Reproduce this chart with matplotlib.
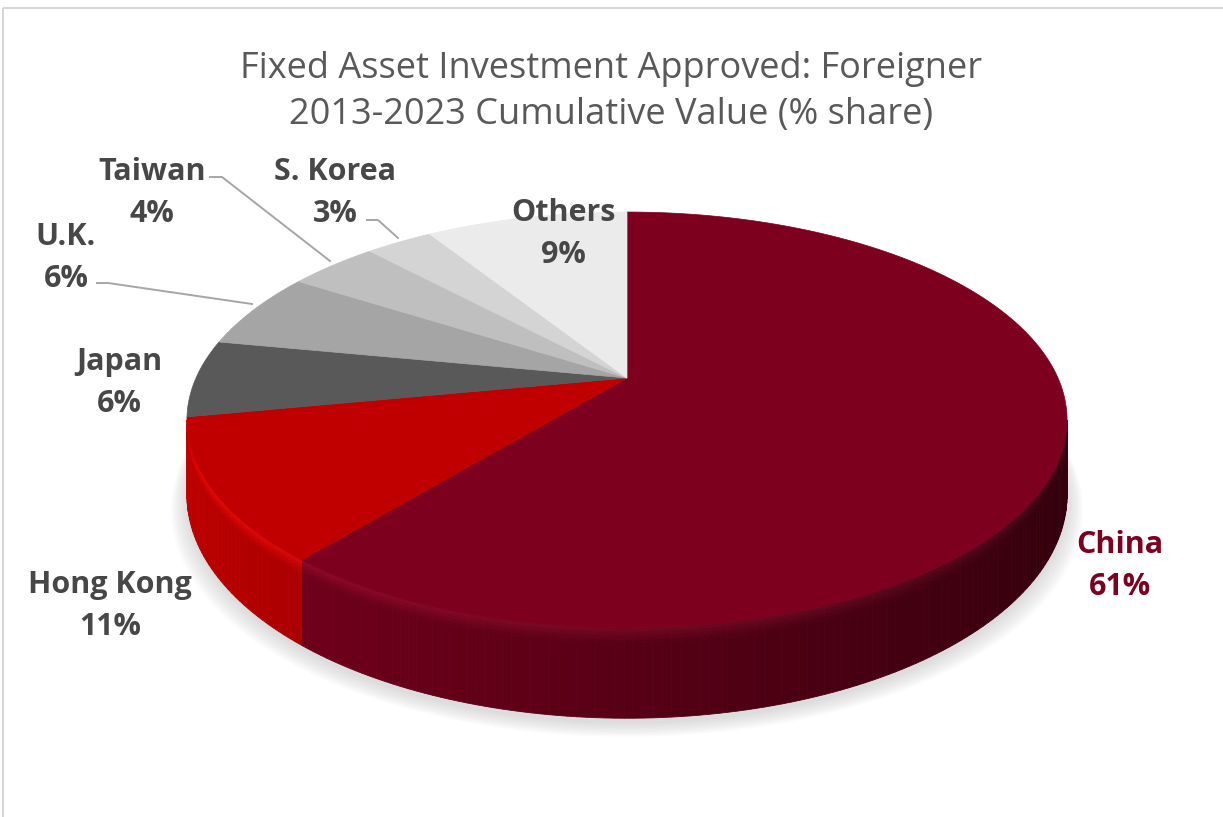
import numpy as np
import matplotlib.pyplot as plt
from matplotlib.patches import Polygon, Rectangle
from matplotlib.colors import to_rgb

# cumulative 2013-2023 share of approved foreign fixed asset investment
countries = ['China', 'Hong Kong', 'Japan', 'U.K.', 'Taiwan', 'S. Korea', 'Others']
shares = [61, 11, 6, 6, 4, 3, 9]

slice_colors = ['#7D001E', '#C00000', '#595959', '#A5A5A5', '#BFBFBF', '#D4D4D4', '#EBEBEB']
label_colors = ['#7D001E', '#474747', '#474747', '#474747', '#474747', '#474747', '#474747']
label_xy = [(1120, 566), (110, 606), (119, 383), (66, 258), (152, 193), (335, 193), (563, 234)]

title = 'Fixed Asset Investment Approved: Foreigner\n2013-2023 Cumulative Value (% share)'

# pie geometry in pixels (y grows downwards), with a simple perspective tilt
CX, CY = 627, 378
RX, RY = 431, 199.5
K = 0.202
DEPTH = 72


def pt(theta, drop=0.0):
    u = np.sin(theta)
    v = -np.cos(theta)
    f = 1.0 / (1.0 - K * v)
    return CX + RX * u * f, CY + RY * v * f + drop * f


def shade(color, factor, lift=0.0):
    return tuple(min(1.0, c * factor + lift) for c in to_rgb(color))


fig = plt.figure(figsize=(12.23, 8.17), dpi=100)
ax = fig.add_axes([0, 0, 1, 1])
ax.set_xlim(0, 1223)
ax.set_ylim(817, 0)
ax.axis('off')

ax.add_patch(Rectangle((3, 8), 1230, 820, fill=False, edgecolor='#d0d0d0', lw=1.2))

# soft shadow under the disc
full = np.linspace(0, 2 * np.pi, 361)
for i in range(10):
    grow = 1 + i * 0.004
    xs, ys = pt(full, DEPTH + 4 + i * 1.2)
    xs = CX + (xs - CX) * grow
    ax.add_patch(Polygon(np.column_stack([xs, ys]), closed=True,
                         facecolor='#9a9a9a', edgecolor='none', alpha=0.035, zorder=1))

angles = np.cumsum([0] + shares) / sum(shares) * 2 * np.pi
vis_lo = np.arccos(-K)
vis_hi = 2 * np.pi - vis_lo

# side wall, lit from the left, with a soft bevel under the rim
bands = [(0, 3, 0.20), (3, 6, 0.14), (6, 9, 0.08), (9, 12, 0.03), (12, DEPTH, 0.0)]
for color, a, b in zip(slice_colors, angles[:-1], angles[1:]):
    lo, hi = max(a, vis_lo), min(b, vis_hi)
    if lo >= hi:
        continue
    ts = np.linspace(lo, hi, max(2, int(np.degrees(hi - lo)) + 1))
    for t0, t1 in zip(ts[:-1], ts[1:]):
        u = np.sin(0.5 * (t0 + t1))
        fac = 0.7 - 0.3 * u
        for d0, d1, boost in bands:
            c = shade(color, fac * (1 + boost), boost * 0.15)
            quad = [pt(t0, d0), pt(t1, d0), pt(t1, d1), pt(t0, d1)]
            ax.add_patch(Polygon(quad, closed=True, facecolor=c, edgecolor=c,
                                 lw=0.6, zorder=2))

# top faces
for color, a, b in zip(slice_colors, angles[:-1], angles[1:]):
    ts = np.linspace(a, b, max(2, int(np.degrees(b - a)) + 1))
    xs, ys = pt(ts)
    verts = [(CX, CY)] + list(zip(xs, ys))
    ax.add_patch(Polygon(verts, closed=True, facecolor=color, edgecolor=color,
                         lw=0.5, zorder=4))

# leader lines for the small slices
leaders = [
    [(97, 283), (108, 283), (252, 304)],
    [(210, 177), (222, 177), (330, 261)],
    [(367, 220), (378, 220), (398, 238)],
]
for line in leaders:
    lx, ly = zip(*line)
    ax.plot(lx, ly, color='#a6a6a6', lw=1.4, zorder=5)

for name, val, col, (x, y) in zip(countries, shares, label_colors, label_xy):
    ax.text(x, y, f'{name}\n{val}%', ha='center', va='center', color=col,
            fontsize=22, fontweight='bold', family='Open Sans', linespacing=1.52,
            zorder=6)

ax.text(611, 92, title, ha='center', va='center', color='#595959',
        fontsize=26, family='Open Sans', linespacing=1.38)

fig.savefig('out.png', dpi=100)
